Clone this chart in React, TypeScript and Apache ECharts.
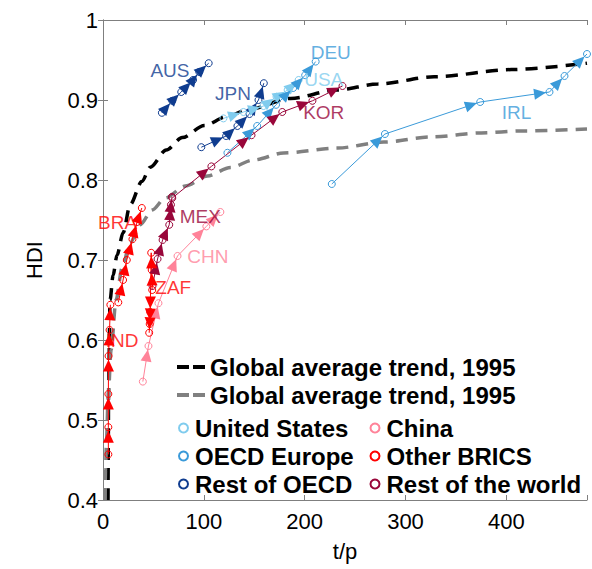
import React, { useEffect, useRef } from 'react';
import * as echarts from 'echarts';

// ---------- data ----------
const trendBlackX = [5.0, 5.3, 5.5, 7.0, 10.0, 13.9, 19.9, 26.9, 38.5, 46.8, 62.7, 78.6, 100.5, 122.4, 143.3, 186.1, 231.8, 272.6, 328.4, 405, 480];
const trendBlackY = [0.4, 0.475, 0.5375, 0.65, 0.681, 0.706, 0.734, 0.769, 0.798, 0.816, 0.8375, 0.853, 0.868, 0.879, 0.888, 0.902, 0.9125, 0.92, 0.929, 0.938, 0.946];
const trendGrayX = [2.0, 2.5, 3.5, 5.0, 8.0, 12.9, 18.9, 26.9, 36.8, 48.8, 61.7, 81.6, 103.5, 126.4, 149.3, 179.1, 232.8, 278.6, 325.4, 375.1, 414.9, 480];
const trendGrayY = [0.4, 0.4375, 0.475, 0.525, 0.5875, 0.65, 0.69, 0.7213, 0.744, 0.7625, 0.7775, 0.7925, 0.805, 0.8156, 0.825, 0.8338, 0.84, 0.8475, 0.8538, 0.8588, 0.8613, 0.8638];

const ausX = [58.4, 68.7, 77.6, 89.3, 95.5, 104.8];
const ausY = [0.884, 0.899, 0.910, 0.925, 0.935, 0.946];
const jpnX = [97.5, 122.1, 133.3, 145.3, 154.2, 159.5];
const jpnY = [0.841, 0.855, 0.8675, 0.8825, 0.900, 0.921];
const usaX = [119.4, 139.3, 159.2, 172.1, 183.1, 194.0];
const usaY = [0.877, 0.885, 0.8925, 0.904, 0.9125, 0.925];
const deuX = [123.4, 152.9, 171.6, 188.6, 200.5, 210.9];
const deuY = [0.834, 0.8675, 0.894, 0.915, 0.931, 0.948];
const irlX = [226.9, 279.6, 374.1, 442.8, 457.7, 480];
const irlY = [0.795, 0.8575, 0.8975, 0.91, 0.93, 0.9575];
const korX = [68.7, 107.5, 147.3, 177.8, 207.7, 237.5];
const korY = [0.7775, 0.817, 0.856, 0.885, 0.899, 0.9175];
const mexX = [49.1, 54.1, 59.1, 65.7, 67.4, 68.4];
const mexY = [0.6675, 0.70125, 0.725, 0.744, 0.769, 0.779];
const chnX = [39.5, 45.1, 55.0, 73.9, 102.5, 116.4];
const chnY = [0.548, 0.5925, 0.646, 0.705, 0.742, 0.760];
const zafX = [48.8, 48.3, 47.8, 46.8, 46.3, 45.8];
const zafY = [0.6625, 0.6875, 0.709, 0.635, 0.62, 0.609];
const braX = [15.2, 19.9, 23.6, 29.2, 33.8, 38.5];
const braY = [0.647, 0.675, 0.700, 0.726, 0.7475, 0.765];
const indX = [5.3, 5.3, 5.3, 5.5, 6.5, 7.3];
const indY = [0.457, 0.491, 0.5325, 0.58, 0.6125, 0.644];

const countryCodes = ['AUS', 'JPN', 'USA', 'DEU', 'IRL', 'KOR', 'MEX', 'CHN', 'ZAF', 'BRA', 'IND'];
const countryGroups = ['Rest of OECD', 'Rest of OECD', 'United States', 'OECD Europe', 'OECD Europe', 'Rest of the world', 'Rest of the world', 'China', 'Other BRICS', 'Other BRICS', 'Other BRICS'];
const countryXs = [ausX, jpnX, usaX, deuX, irlX, korX, mexX, chnX, zafX, braX, indX];
const countryYs = [ausY, jpnY, usaY, deuY, irlY, korY, mexY, chnY, zafY, braY, indY];

// country label anchor positions (data units)
const labelX = [66.4, 128.9, 218.9, 225.9, 410, 218.9, 96.5, 104, 69.7, 14.4, 18.9];
const labelY = [0.9375, 0.90875, 0.926, 0.96, 0.885, 0.884, 0.754, 0.704, 0.666, 0.7475, 0.6];

const trendNames = ['Global average trend, 1995', 'Global average trend, 1995 '];
const legendCol1 = ['United States', 'OECD Europe', 'Rest of OECD'];
const legendCol2 = ['China', 'Other BRICS', 'Rest of the world'];

const xTicks = [0, 100, 200, 300, 400];

// ---------- styles ----------
const groupColors: Record<string, string> = {
  'United States': '#80CCEE',
  'OECD Europe': '#3A9AD9',
  'Rest of OECD': '#0F3C8F',
  'China': '#FF8399',
  'Other BRICS': '#FF0000',
  'Rest of the world': '#99063A',
};
const trendColors = ['#000000', '#808080'];
const FONT = 'Liberation Sans, Arial, sans-serif';
const AXIS_COLOR = '#7F7F7F';
const DASH_ICON = 'path://M0,0h12v4h-12zM16,0h12v4h-12z';

const zip = (xs: number[], ys: number[]) => xs.map((x, i) => [x, ys[i]]);

export default function App() {
  const ref = useRef<HTMLDivElement>(null);
  useEffect(() => {
    if (!ref.current) return;
    const chart = echarts.init(ref.current, undefined, { renderer: 'svg' });

    const series: any[] = [];
    [zip(trendBlackX, trendBlackY), zip(trendGrayX, trendGrayY)].forEach((d, i) => {
      series.push({
        name: trendNames[i], type: 'line', data: d, symbol: 'none',
        smooth: 0.3, smoothMonotone: 'x', silent: true, z: 1,
        itemStyle: { color: trendColors[i] },
        lineStyle: { color: trendColors[i], width: 3.5, type: [12, 8] },
      });
    });

    countryCodes.forEach((code, ci) => {
      const color = groupColors[countryGroups[ci]];
      const pts = zip(countryXs[ci], countryYs[ci]);
      series.push({
        name: countryGroups[ci], type: 'line', data: pts, symbol: 'circle', symbolSize: 7,
        showSymbol: true, silent: true, z: 3,
        itemStyle: { color: 'rgba(255,255,255,0)', borderColor: color, borderWidth: 1 },
        lineStyle: { color, width: 1 },
      });
      const segs = pts.slice(1).map((p, i) => [pts[i][0], pts[i][1], p[0], p[1]]);
      series.push({
        name: code + ' arrows', type: 'custom', data: segs, silent: true, z: 4, clip: false,
        renderItem: (_params: any, api: any) => {
          const p0 = api.coord([api.value(0), api.value(1)]);
          const p1 = api.coord([api.value(2), api.value(3)]);
          const dx = p1[0] - p0[0];
          const dy = p1[1] - p0[1];
          const len = Math.hypot(dx, dy) || 1;
          const ux = dx / len;
          const uy = dy / len;
          const tx = p1[0] - ux * 3.5;
          const ty = p1[1] - uy * 3.5;
          const L = 12;
          const W = 5.5;
          const bx = tx - ux * L;
          const by = ty - uy * L;
          return {
            type: 'polygon',
            shape: { points: [[tx, ty], [bx - uy * W, by + ux * W], [bx + uy * W, by - ux * W]] },
            style: { fill: color, stroke: null },
          };
        },
      });
    });

    series.push({
      name: 'labels', type: 'scatter', symbolSize: 0, silent: true, z: 5,
      data: countryCodes.map((code, ci) => ({
        value: [labelX[ci], labelY[ci]], name: code,
        label: { color: groupColors[countryGroups[ci]] },
      })),
      label: { show: true, position: 'inside', formatter: '{b}', fontSize: 19, fontFamily: FONT },
    });

    const legendText = { fontSize: 24, fontWeight: 'bold', color: '#000', lineHeight: 24, fontFamily: FONT };
    const groupLegend = (names: string[], left: number) => ({
      orient: 'vertical', left, top: 416, padding: 0, itemGap: 4, itemWidth: 9, itemHeight: 9,
      selectedMode: false, textStyle: { ...legendText, padding: [0, 0, 0, 2] },
      data: names.map((n) => ({
        name: n, icon: 'circle',
        itemStyle: { color: '#ffffff', borderColor: groupColors[n], borderWidth: 2 },
      })),
    });

    const axisCommon = {
      axisLine: { show: true, lineStyle: { color: AXIS_COLOR, width: 1 } },
      axisTick: { show: true, inside: true, length: 5, lineStyle: { color: AXIS_COLOR } },
      splitLine: { show: false },
    };

    chart.setOption({
      animation: false,
      backgroundColor: '#ffffff',
      textStyle: { fontFamily: FONT },
      grid: { left: 103, right: 5, top: 20, bottom: 69, containLabel: false },
      legend: [
        {
          orient: 'vertical', left: 177, top: 355, padding: 0, itemGap: 4, itemWidth: 28, itemHeight: 4,
          selectedMode: false, textStyle: legendText,
          data: trendNames.map((n, i) => ({
            name: n, icon: DASH_ICON,
            itemStyle: { color: trendColors[i], borderWidth: 0 },
          })),
        },
        groupLegend(legendCol1, 178),
        groupLegend(legendCol2, 369.5),
      ],
      xAxis: [
        {
          type: 'value', position: 'bottom', min: 0, max: 480, interval: 100, ...axisCommon,
          name: 't/p', nameLocation: 'middle', nameGap: 40,
          nameTextStyle: { fontSize: 22, color: '#000', fontFamily: FONT },
          axisLabel: {
            fontSize: 22, color: '#000', margin: 10, fontFamily: FONT,
            formatter: (v: number) => (xTicks.indexOf(v) >= 0 ? String(v) : ''),
          },
        },
        {
          type: 'value', position: 'top', min: 0, max: 480, interval: 100, ...axisCommon,
          axisLabel: { show: false },
        },
      ],
      yAxis: [
        {
          type: 'value', position: 'left', min: 0.4, max: 1, interval: 0.1, ...axisCommon,
          name: 'HDI', nameLocation: 'middle', nameGap: 58,
          nameTextStyle: { fontSize: 22, color: '#000', fontFamily: FONT },
          axisLabel: {
            fontSize: 22, color: '#000', margin: 5, fontFamily: FONT,
            formatter: (v: number) => (Math.abs(v - 1) < 1e-9 ? '1' : v.toFixed(1)),
          },
        },
        {
          type: 'value', position: 'right', min: 0.4, max: 1, interval: 0.1, ...axisCommon,
          axisLabel: { show: false },
        },
      ],
      series,
    });

    return () => chart.dispose();
  }, []);

  return <div ref={ref} style={{ position: 'fixed', left: 0, top: 0, width: 592, height: 569 }} />;
}
